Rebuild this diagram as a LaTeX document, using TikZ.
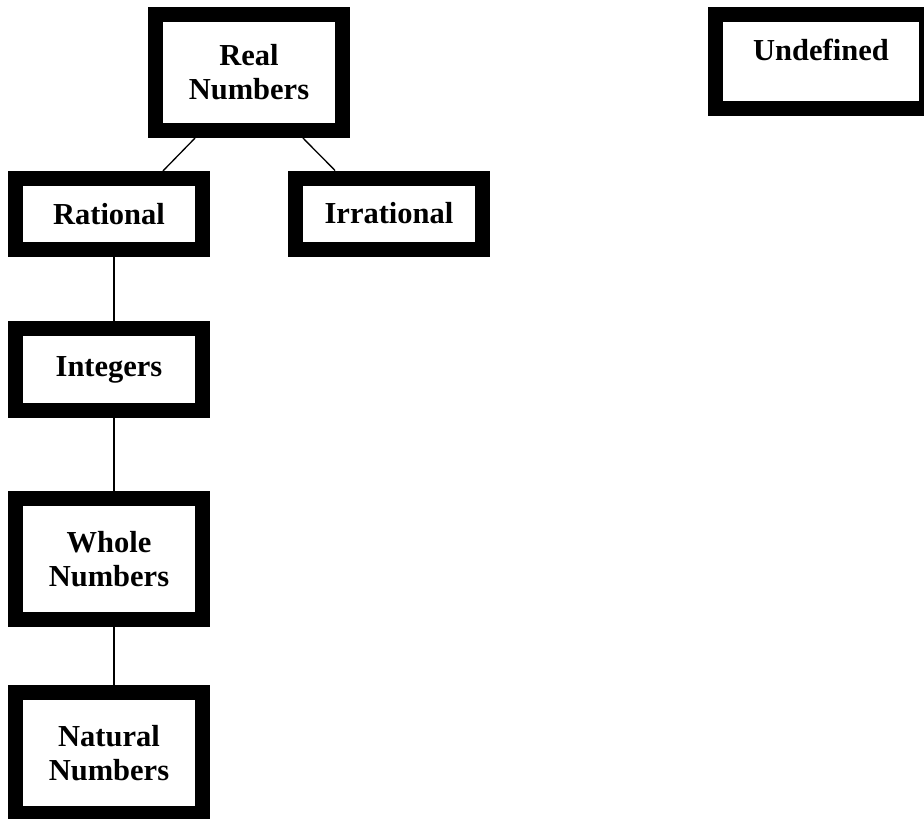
\documentclass[tikz,border=0pt]{standalone}
\usepackage{fontspec}
\setmainfont{Liberation Serif}
\usetikzlibrary{calc}
\tikzset{
  numbox/.style={draw=black, line width=15pt, fill=white, inner sep=0pt, align=center,
    font=\fontsize{30.5}{34}\selectfont\bfseries, minimum width=187pt},
  link/.style={draw=black, line width=1.3pt}
}
\begin{document}
\begin{tikzpicture}[x=1pt,y=-1pt]
\useasboundingbox (0,0) rectangle (924,819);
\clip (0,0) rectangle (924,819);
\node[numbox, minimum height=116pt] (real) at (249,72.5) {Real\\Numbers};
\node[numbox, minimum width=211pt, minimum height=94pt, text height=22pt, text depth=25pt] (undef) at (821,61.5) {Undefined};
\node[numbox, minimum height=71pt] (rational) at (109,214) {Rational};
\node[numbox, minimum height=71pt] (irrational) at (389,213.5) {Irrational};
\node[numbox, minimum height=82pt] (integers) at (109,369.5) {Integers};
\node[numbox, minimum height=121pt] (whole) at (109,559) {Whole\\Numbers};
\node[numbox, minimum height=121pt] (natural) at (109,753) {Natural\\Numbers};
\draw[link] ($(real.south west)!0.233!(real.south east)$) -- ($(rational.north west)!0.767!(rational.north east)$);
\draw[link] ($(real.south west)!0.767!(real.south east)$) -- ($(irrational.north west)!0.233!(irrational.north east)$);
\draw[link] ($(rational.south west)!0.525!(rational.south east)$) -- ($(integers.north west)!0.525!(integers.north east)$);
\draw[link] ($(integers.south west)!0.525!(integers.south east)$) -- ($(whole.north west)!0.525!(whole.north east)$);
\draw[link] ($(whole.south west)!0.525!(whole.south east)$) -- ($(natural.north west)!0.525!(natural.north east)$);
\end{tikzpicture}
\end{document}
